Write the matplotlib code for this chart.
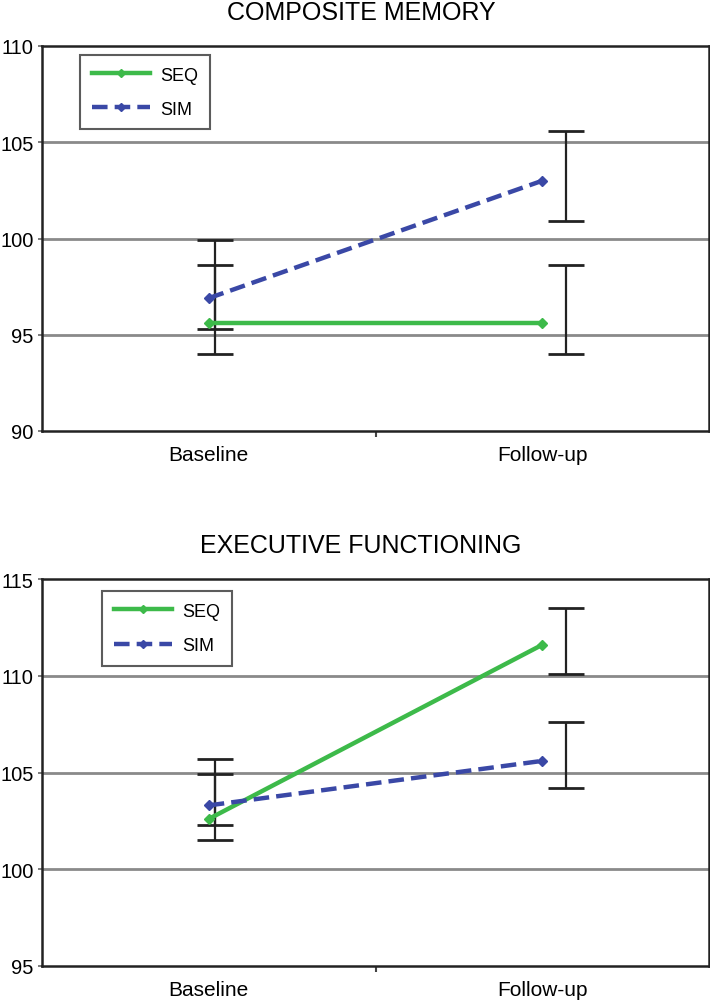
import matplotlib
matplotlib.use("Agg")
import matplotlib.pyplot as plt
import numpy as np

plt.rcParams['font.family'] = ['Liberation Sans', 'DejaVu Sans']

times = ["Baseline", "Follow-up"]

# composite memory
mem_seq = [95.6, 95.6]
mem_sim = [96.9, 103.0]
mem_seq_lo = [95.3, 94.0]
mem_seq_hi = [98.6, 98.6]
mem_sim_lo = [94.0, 100.9]
mem_sim_hi = [99.9, 105.6]

# executive functioning
exe_seq = [102.6, 111.6]
exe_sim = [103.3, 105.6]
exe_seq_lo = [101.5, 110.1]
exe_seq_hi = [105.7, 113.5]
exe_sim_lo = [102.3, 104.2]
exe_sim_hi = [104.9, 107.6]

GREEN = "#3dba4a"
BLUE = "#3a48a6"


def draw_panel(ax, seq, sim, seq_lo, seq_hi, sim_lo, sim_hi, ylim, legend_xy):
    x = np.arange(len(times)) + 0.5
    ex = x + np.array([0.02, 0.07])  # error bars sit a bit right of the points

    ax.set_xlim(0, 2)
    ax.set_ylim(*ylim)
    yt = np.arange(ylim[0], ylim[1] + 1, 5)
    ax.set_yticks(yt)
    for v in yt[1:-1]:
        ax.axhline(v, color="#8a8a8a", lw=2, zorder=1)

    for lo, hi in ((seq_lo, seq_hi), (sim_lo, sim_hi)):
        lo = np.array(lo)
        hi = np.array(hi)
        ax.errorbar(ex, (lo + hi) / 2, yerr=(hi - lo) / 2, fmt="none",
                    ecolor="#222222", elinewidth=1.6, capsize=13,
                    capthick=2, zorder=2)

    ax.plot(x, seq, color=GREEN, lw=3.2, marker="D", ms=5.5,
            label="SEQ", zorder=3)
    ax.plot(x, sim, color=BLUE, lw=3.2, ls=(0, (3.5, 1.6)), marker="D", ms=5.5,
            label="SIM", zorder=4)

    ax.set_xticks(x)
    ax.set_xticklabels(times, fontsize=15)
    ax.set_xticks([1.0], minor=True)
    ax.tick_params(axis="x", which="major", length=0, pad=10)
    ax.tick_params(axis="x", which="minor", length=4, width=1.5, color="#444444")
    ax.tick_params(axis="y", length=3, width=1.2, labelsize=14.5, pad=3,
                   color="#666666")
    for s in ax.spines.values():
        s.set_linewidth(1.8)
        s.set_color("#222222")

    leg = ax.legend(loc="upper left", bbox_to_anchor=legend_xy, fontsize=13,
                    frameon=True, fancybox=False, edgecolor="#333333",
                    handlelength=3.2, labelspacing=0.95, borderpad=0.65,
                    handletextpad=0.6, borderaxespad=0, markerscale=0.8)
    leg.get_frame().set_linewidth(1.5)
    leg.set_zorder(5)


fig = plt.figure(figsize=(7.1, 10.04), dpi=100)
ax1 = fig.add_axes([42 / 710, 1 - 432 / 1004, 667 / 710, 385 / 1004])
ax2 = fig.add_axes([42 / 710, 1 - 967 / 1004, 667 / 710, 387 / 1004])

draw_panel(ax1, mem_seq, mem_sim, mem_seq_lo, mem_seq_hi, mem_sim_lo,
           mem_sim_hi, (90, 110), (0.057, 0.977))
draw_panel(ax2, exe_seq, exe_sim, exe_seq_lo, exe_seq_hi, exe_sim_lo,
           exe_sim_hi, (95, 115), (0.09, 0.969))

fig.text(361 / 710, 1 - 13 / 1004, "COMPOSITE MEMORY", ha="center",
         va="center", fontsize=18)
fig.text(361 / 710, 1 - 546 / 1004, "EXECUTIVE FUNCTIONING", ha="center",
         va="center", fontsize=18)

fig.savefig("out.png", dpi=100)
